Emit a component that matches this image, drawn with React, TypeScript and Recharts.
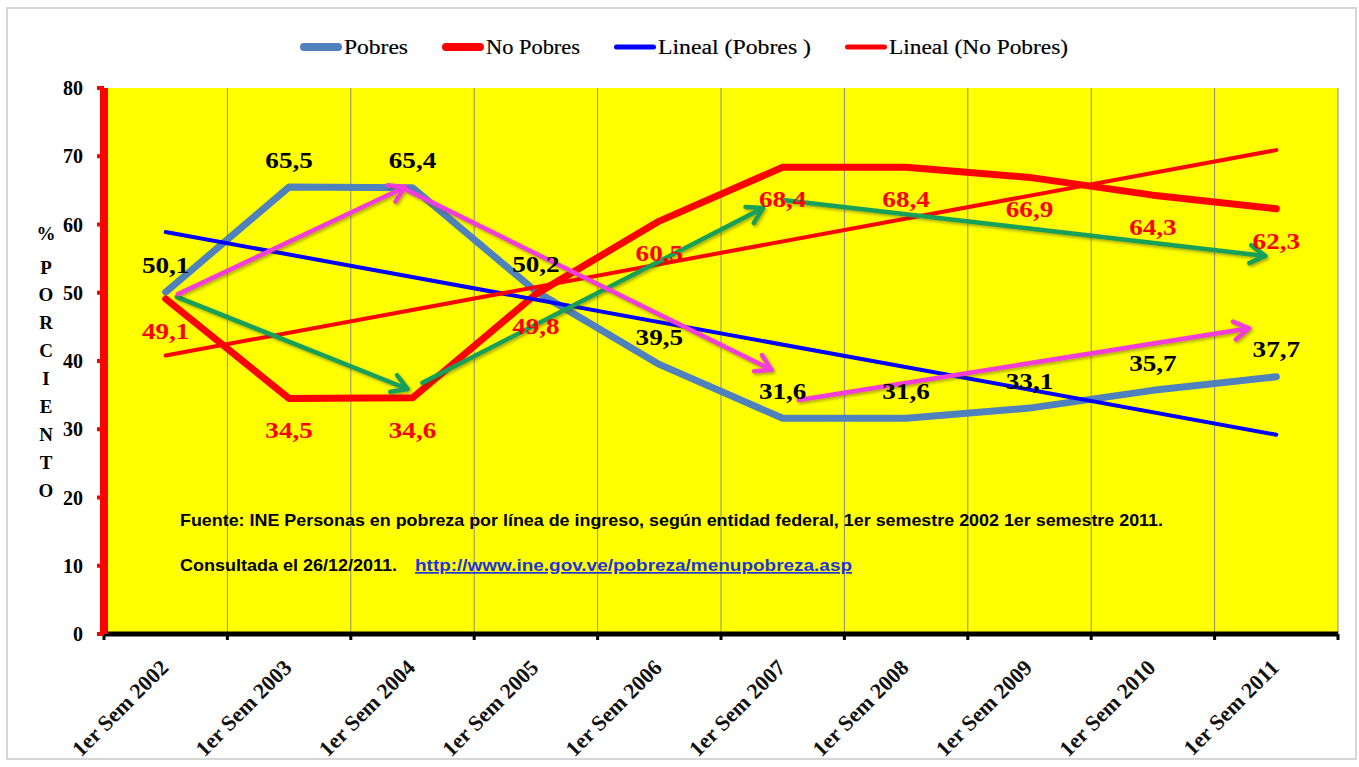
import React from 'react';
import { LineChart, Line, XAxis, YAxis, CartesianGrid, Legend, LabelList } from 'recharts';

const categories = [
  '1er Sem 2002', '1er Sem 2003', '1er Sem 2004', '1er Sem 2005', '1er Sem 2006',
  '1er Sem 2007', '1er Sem 2008', '1er Sem 2009', '1er Sem 2010', '1er Sem 2011',
];
const pobres = [50.1, 65.5, 65.4, 50.2, 39.5, 31.6, 31.6, 33.1, 35.7, 37.7];
const noPobres = [49.1, 34.5, 34.6, 49.8, 60.5, 68.4, 68.4, 66.9, 64.3, 62.3];
const linealPobres = [58.9, null, null, null, null, null, null, null, null, 29.2];
const linealNoPobres = [40.8, null, null, null, null, null, null, null, null, 70.9];
const yTicks = [0, 10, 20, 30, 40, 50, 60, 70, 80];

// annotation arrows (x = category index, y = percent)
const magentaArrow1 = [{ x: 0.1, y: 49.8 }, { x: 1.94, y: 65.5 }];
const magentaArrow2 = [{ x: 1.96, y: 65.0 }, { x: 4.91, y: 38.7 }];
const magentaArrow3 = [{ x: 5.13, y: 34.3 }, { x: 8.78, y: 44.8 }];
const greenArrow1 = [{ x: 0.09, y: 49.4 }, { x: 1.96, y: 35.9 }];
const greenArrow2 = [{ x: 2.08, y: 36.8 }, { x: 4.84, y: 62.4 }];
const greenArrow3 = [{ x: 5.0, y: 63.6 }, { x: 8.91, y: 55.4 }];

const titleLetters = ['P', 'O', 'R', 'C', 'I', 'E', 'N', 'T', 'O'];

const data = categories.map((c, i) => ({
  x: i,
  category: c,
  pobres: pobres[i],
  noPobres: noPobres[i],
  linealPobres: linealPobres[i],
  linealNoPobres: linealNoPobres[i],
}));

const xTicks = categories.map((_, i) => i - 0.5).concat([categories.length - 0.5]);

const SERIF = 'Liberation Serif, Times New Roman, serif';
const SANS = 'Liberation Sans, Arial, sans-serif';
const MAGENTA = '#f23cd8';
const GREEN = '#16a05a';

const fmt = (v: any) => (typeof v === 'number' ? v.toFixed(1).replace('.', ',') : '');

function XTick(props: any) {
  const { x, y, payload, width } = props;
  const idx = Math.round(payload.value + 0.5);
  if (idx < 0 || idx >= categories.length) return <g />;
  const band = (typeof width === 'number' && width > 0 ? width : 1234) / categories.length;
  const lx = x + band / 2 + 4;
  const ly = y + 27;
  return (
    <text
      transform={`translate(${lx},${ly}) rotate(-45)`}
      textAnchor="end"
      fontSize={22}
      fontWeight={700}
      fontFamily={SERIF}
      fill="#111"
    >
      {categories[idx]}
    </text>
  );
}

function YTick(props: any) {
  const { x, y, payload } = props;
  return (
    <text
      x={x}
      y={y}
      textAnchor="end"
      dominantBaseline="central"
      fontSize={20}
      fontWeight={700}
      fontFamily={SERIF}
      fill="#000"
    >
      {payload.value}
    </text>
  );
}

const makeLabel = (color: string, dy: number) => (props: any) => {
  const { x, y, value } = props;
  if (value === null || value === undefined) return null;
  return (
    <text
      transform={`translate(${x},${y + dy}) scale(1.18,1)`}
      textAnchor="middle"
      dominantBaseline="central"
      fontSize={23}
      fontWeight={700}
      fontFamily={SERIF}
      fill={color}
    >
      {fmt(value)}
    </text>
  );
};

// legend layout (sample thickness, text width in px)
const legendOrder = ['pobres', 'noPobres', 'linealPobres', 'linealNoPobres'];
const legendThickness: Record<string, number> = { pobres: 8, noPobres: 8, linealPobres: 5, linealNoPobres: 5 };
const legendTextWidth: Record<string, number> = { pobres: 64, noPobres: 94, linealPobres: 153, linealNoPobres: 179 };
const LEGEND_SAMPLE = 42;
const LEGEND_GAP = 34;

function LegendContent(props: any) {
  const items = (props.payload || [])
    .filter((p: any) => legendOrder.includes(p.dataKey))
    .sort((a: any, b: any) => legendOrder.indexOf(a.dataKey) - legendOrder.indexOf(b.dataKey));
  const widths = items.map((p: any) => LEGEND_SAMPLE + 2 + legendTextWidth[p.dataKey]);
  const total = widths.reduce((s: number, w: number) => s + w, 0) + LEGEND_GAP * (items.length - 1);
  let cursor = 684 - total / 2;
  return (
    <svg width={1359} height={30} style={{ display: 'block' }}>
      {items.map((p: any, i: number) => {
        const x0 = cursor;
        cursor += widths[i] + LEGEND_GAP;
        const th = legendThickness[p.dataKey];
        return (
          <g key={i}>
            <line
              x1={x0 + th / 2}
              x2={x0 + LEGEND_SAMPLE - th / 2}
              y1={15}
              y2={15}
              stroke={p.color}
              strokeWidth={th}
              strokeLinecap="round"
            />
            <text
              x={x0 + LEGEND_SAMPLE + 2}
              y={22}
              fontFamily={SERIF}
              fontSize={20}
              fill="#000"
              stroke="#000"
              strokeWidth={0.2}
              textLength={legendTextWidth[p.dataKey]}
              lengthAdjust="spacingAndGlyphs"
            >
              {p.value}
            </text>
          </g>
        );
      })}
    </svg>
  );
}

export default function App() {
  const arrowProps = {
    dataKey: 'y',
    dot: false,
    activeDot: false,
    isAnimationActive: false,
    strokeWidth: 4.5,
    strokeLinecap: 'round' as const,
    legendType: 'none' as const,
    filter: 'url(#arrowShadow)',
  };
  return (
    <div style={{ position: 'absolute', left: 0, top: 0, width: 1359, height: 767, background: '#fff' }}>
      <div
        style={{
          position: 'absolute',
          left: 6,
          top: 7,
          width: 1351,
          height: 753,
          border: '2px solid #d6d6d6',
          boxSizing: 'border-box',
        }}
      />
      <LineChart
        width={1359}
        height={767}
        data={data}
        margin={{ top: 58, right: 21, bottom: 0, left: 44 }}
      >
        <defs>
          <marker
            id="arrowMagenta"
            markerUnits="userSpaceOnUse"
            markerWidth={24}
            markerHeight={24}
            viewBox="0 0 24 24"
            refX={20}
            refY={12}
            orient="auto"
          >
            <path d="M5,3 L20,12 L5,21" fill="none" stroke={MAGENTA} strokeWidth={4.5} strokeLinecap="round" strokeLinejoin="round" />
          </marker>
          <marker
            id="arrowGreen"
            markerUnits="userSpaceOnUse"
            markerWidth={24}
            markerHeight={24}
            viewBox="0 0 24 24"
            refX={20}
            refY={12}
            orient="auto"
          >
            <path d="M5,3 L20,12 L5,21" fill="none" stroke={GREEN} strokeWidth={4.5} strokeLinecap="round" strokeLinejoin="round" />
          </marker>
          <filter id="arrowShadow" x="-10%" y="-20%" width="120%" height="140%">
            <feDropShadow dx="1.5" dy="2" stdDeviation="1.5" floodColor="#4a4a00" floodOpacity="0.45" />
          </filter>
        </defs>
        <CartesianGrid horizontal={false} stroke="#8a8a8a" strokeWidth={1} fill="#ffff00" fillOpacity={1} />
        <XAxis
          type="number"
          dataKey="x"
          domain={[-0.5, 9.5]}
          ticks={xTicks}
          interval={0}
          allowDecimals
          height={133}
          axisLine={{ stroke: '#000', strokeWidth: 5 }}
          tickLine={{ stroke: '#000', strokeWidth: 3 }}
          tickSize={6}
          tick={<XTick />}
        />
        <YAxis
          type="number"
          domain={[0, 80]}
          ticks={yTicks}
          interval={0}
          width={60}
          axisLine={{ stroke: '#ff0000', strokeWidth: 8 }}
          tickLine={{ stroke: '#ff0000', strokeWidth: 4 }}
          tickSize={7}
          tickMargin={14}
          tick={<YTick />}
        />
        <Legend
          verticalAlign="top"
          align="center"
          content={<LegendContent />}
          wrapperStyle={{ top: 32, left: 0, width: 1359 }}
        />
        <Line
          name="Pobres"
          dataKey="pobres"
          stroke="#4f81bd"
          strokeWidth={7}
          strokeLinecap="round"
          strokeLinejoin="round"
          dot={false}
          activeDot={false}
          isAnimationActive={false}
        >
          <LabelList dataKey="pobres" content={makeLabel('#000', -27)} />
        </Line>
        <Line
          name="No Pobres"
          dataKey="noPobres"
          stroke="#ff0000"
          strokeWidth={7}
          strokeLinecap="round"
          strokeLinejoin="round"
          dot={false}
          activeDot={false}
          isAnimationActive={false}
        >
          <LabelList dataKey="noPobres" content={makeLabel('#ff0000', 32)} />
        </Line>
        <Line
          name="Lineal (Pobres )"
          dataKey="linealPobres"
          stroke="#0000ff"
          strokeWidth={4}
          strokeLinecap="round"
          connectNulls
          dot={false}
          activeDot={false}
          isAnimationActive={false}
        />
        <Line
          name="Lineal (No Pobres)"
          dataKey="linealNoPobres"
          stroke="#ff0000"
          strokeWidth={4}
          strokeLinecap="round"
          connectNulls
          dot={false}
          activeDot={false}
          isAnimationActive={false}
        />
        <Line {...arrowProps} data={greenArrow1} stroke={GREEN} markerEnd="url(#arrowGreen)" />
        <Line {...arrowProps} data={greenArrow2} stroke={GREEN} markerEnd="url(#arrowGreen)" />
        <Line {...arrowProps} data={greenArrow3} stroke={GREEN} markerEnd="url(#arrowGreen)" />
        <Line {...arrowProps} data={magentaArrow1} stroke={MAGENTA} markerEnd="url(#arrowMagenta)" />
        <Line {...arrowProps} data={magentaArrow2} stroke={MAGENTA} markerEnd="url(#arrowMagenta)" />
        <Line {...arrowProps} data={magentaArrow3} stroke={MAGENTA} markerEnd="url(#arrowMagenta)" />
        <g>
          <text x={46} y={233} textAnchor="middle" dominantBaseline="central" fontSize={19} fontWeight={700} fontFamily={SERIF} fill="#000">
            %
          </text>
          {titleLetters.map((ch, i) => (
            <text
              key={i}
              x={46}
              y={267 + i * 27.9}
              textAnchor="middle"
              dominantBaseline="central"
              fontSize={19}
              fontWeight={700}
              fontFamily={SERIF}
              fill="#000"
            >
              {ch}
            </text>
          ))}
        </g>
        <g fontFamily={SANS} fontWeight={700} fontSize={17}>
          <text x={180} y={526} fill="#000" textLength={983} lengthAdjust="spacingAndGlyphs">
            Fuente:  INE  Personas en pobreza por línea de ingreso, según entidad federal, 1er semestre 2002 1er semestre 2011.
          </text>
          <text x={180} y={571} fill="#000" textLength={217} lengthAdjust="spacingAndGlyphs">
            Consultada el 26/12/2011.
          </text>
          <text
            x={415}
            y={571}
            fill="#1d35d9"
            textDecoration="underline"
            textLength={437}
            lengthAdjust="spacingAndGlyphs"
          >
            http://www.ine.gov.ve/pobreza/menupobreza.asp
          </text>
        </g>
      </LineChart>
    </div>
  );
}
